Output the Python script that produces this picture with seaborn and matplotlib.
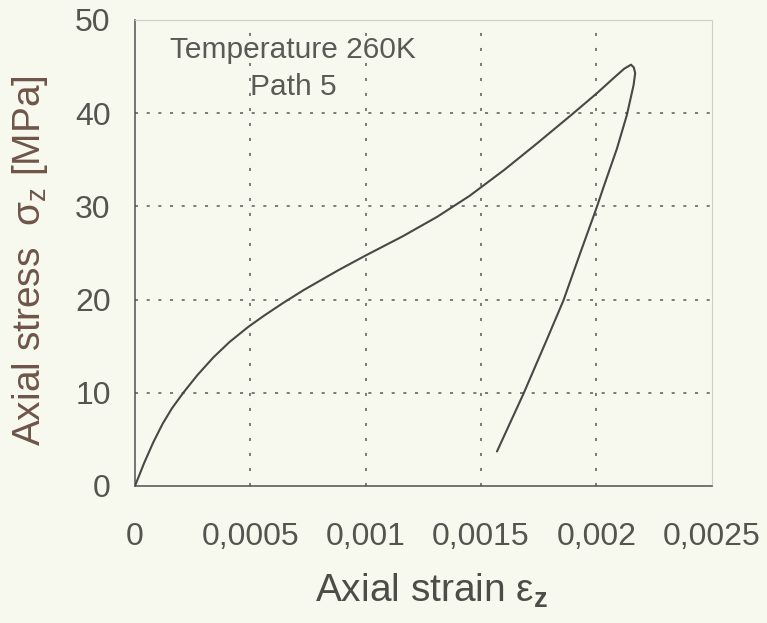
import matplotlib
matplotlib.use("Agg")
import matplotlib.pyplot as plt
import seaborn as sns
import pandas as pd

# ---- data ----
strain = [0.0, 0.00004, 0.00008, 0.00012, 0.00016, 0.00021, 0.00027, 0.00034,
          0.00041, 0.00049, 0.00056, 0.00064, 0.00073, 0.00088, 0.001, 0.00116,
          0.00131, 0.00145, 0.0016, 0.00174, 0.00189, 0.002, 0.00207, 0.00212,
          0.00215, 0.002162, 0.002168,
          0.002161, 0.002132, 0.002089, 0.00203, 0.002, 0.00193, 0.001857,
          0.001785, 0.001684, 0.001569]
stress = [0.0, 2.48, 4.72, 6.68, 8.32, 10.02, 11.88, 13.8,
          15.45, 17.05, 18.28, 19.6, 21.0, 23.13, 24.73, 26.78,
          28.88, 31.12, 33.9, 36.7, 39.78, 42.09, 43.66, 44.76,
          45.2, 44.9, 44.3,
          43.0, 39.8, 36.2, 32.0, 29.8, 25.0, 19.9,
          15.7, 9.9, 3.7]

x_ticks = [0, 0.0005, 0.001, 0.0015, 0.002, 0.0025]
x_tick_labels = ["0", "0,0005", "0,001", "0,0015", "0,002", "0,0025"]
y_ticks = [0, 10, 20, 30, 40, 50]
y_tick_labels = ["0", "10", "20", "30", "40", "50"]

df = pd.DataFrame({"strain": strain, "stress": stress})

# ---- style ----
sns.set_style("white")
plt.rcParams["font.family"] = ["Liberation Sans", "DejaVu Sans"]
plt.rcParams["mathtext.fontset"] = "custom"
plt.rcParams["mathtext.rm"] = "Liberation Sans"
plt.rcParams["mathtext.it"] = "Liberation Sans:italic"
plt.rcParams["mathtext.bf"] = "Liberation Sans:bold"
plt.rcParams["lines.scale_dashes"] = False

bg = "#f7f9ef"
fig = plt.figure(figsize=(7.67, 6.23), dpi=100, facecolor=bg)
ax = fig.add_axes([0.176, 0.22, 0.752, 0.748])
ax.set_facecolor(bg)

sns.lineplot(data=df, x="strain", y="stress", sort=False, estimator=None,
             color="#484844", linewidth=1.5, ax=ax, zorder=5,
             solid_joinstyle="round", solid_capstyle="round")

ax.set_xlim(x_ticks[0], x_ticks[-1])
ax.set_ylim(y_ticks[0], y_ticks[-1])
ax.set_xticks(x_ticks)
ax.set_xticklabels(x_tick_labels)
ax.set_yticks(y_ticks)
ax.set_yticklabels(y_tick_labels)

tick_col = "#555550"
ax.tick_params(axis="x", direction="inout", length=12, width=1.0, color="#555550",
               labelsize=23, labelcolor=tick_col, pad=20)
ax.tick_params(axis="y", direction="out", length=8.5, width=1.0, color="#555550",
               labelsize=23, labelcolor=tick_col, pad=9)

# dotted grid
for xv in x_ticks[1:-1]:
    ax.axvline(xv, color="#5a5a55", linewidth=1.1, linestyle=(0, (2.2, 8.6)), zorder=1)
for yv in y_ticks[1:-1]:
    ax.axhline(yv, color="#5a5a55", linewidth=1.1, linestyle=(0, (2.2, 6.2)), zorder=1)

for side in ["left", "bottom"]:
    ax.spines[side].set_color("#505050")
    ax.spines[side].set_linewidth(1.1)
for side in ["top", "right"]:
    ax.spines[side].set_color("#cfd0c8")
    ax.spines[side].set_linewidth(0.8)

ax.set_xlabel("Axial strain ε$_\\mathbf{z}$", fontsize=28, color="#4d4d48", labelpad=14)
ax.set_ylabel("Axial stress  σ$_\\mathrm{z}$ [MPa]", fontsize=28, color="#6e5548", labelpad=18)
ax.xaxis.label.set_x(0.515)
ax.yaxis.label.set_y(0.483)

ax.text(0.000685, 45.9, "Temperature 260K", ha="center", va="baseline",
        fontsize=21.5, color="#5a5a55", zorder=6)
ax.text(0.000685, 41.95, "Path 5", ha="center", va="baseline",
        fontsize=21.5, color="#5a5a55", zorder=6)

fig.savefig("out.png", dpi=100, facecolor=bg)
